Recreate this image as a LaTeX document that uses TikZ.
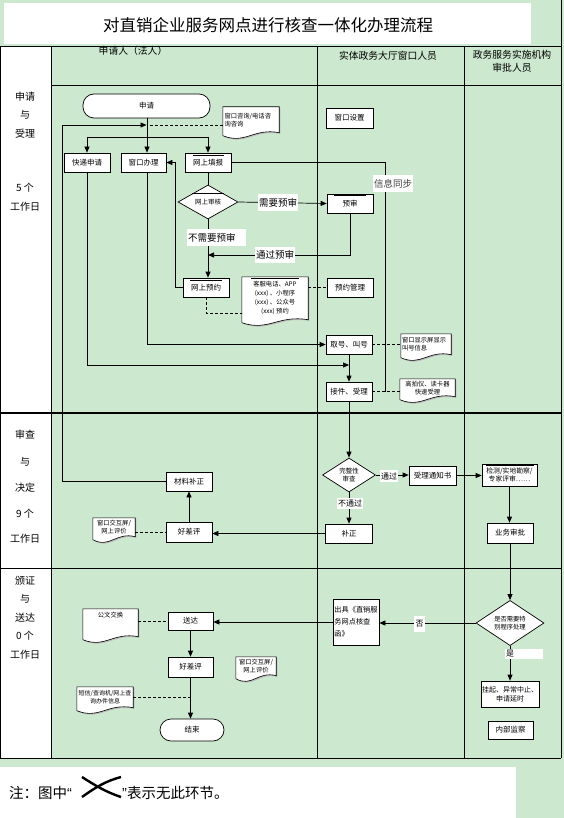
\documentclass[tikz,border=0pt]{standalone}
\usepackage{fontspec}
\setmainfont{Noto Sans CJK SC}
\newfontfamily\latq{Liberation Sans}
\usetikzlibrary{arrows.meta,calc,shapes.geometric}
\definecolor{bggreen}{HTML}{CCE8CF}
\pgfdeclarelayer{back}
\pgfdeclarelayer{docs}
\pgfsetlayers{back,docs,main}
\newcommand\wdoc[1]{%
 \begin{pgfonlayer}{docs}
 \fill[gray!55] let \p1=(#1.north west), \p2=(#1.south east) in
   (\x1+1.2pt,\y1-1.2pt) -- (\x2+1.2pt,\y1-1.2pt) -- (\x2+1.2pt,\y2-1.2pt)
   .. controls ({\x2-0.45*(\x2-\x1)+1.2pt},\y2+3.8pt) and ({\x1+0.4*(\x2-\x1)+1.2pt},\y2-13.2pt) .. (\x1+1.2pt,\y2-4.2pt) -- cycle;
 \draw[line width=0.6pt, fill=white] let \p1=(#1.north west), \p2=(#1.south east) in
   (\x1,\y1) -- (\x2,\y1) -- (\x2,\y2)
   .. controls ({\x2-0.45*(\x2-\x1)},\y2+5pt) and ({\x1+0.4*(\x2-\x1)},\y2-12pt) .. (\x1,\y2-3pt) -- cycle;
 \end{pgfonlayer}}
\newcommand\tbar[3]{\draw[line width=1.6pt] ($(#1.north)+(-#2,#3)$) -- ($(#1.north)+(#2,#3)$);}
\tikzset{
 box/.style={draw, line width=0.7pt, fill=white, inner sep=0pt, font=\fontsize{7.5}{9}\selectfont, align=center},
 dia/.style={box, diamond, font=\fontsize{6.5}{8}\selectfont},
 term/.style={box, rounded corners=11pt},
 doctext/.style={inner sep=1pt, font=\fontsize{6.3}{8}\selectfont, align=center},
 lbl/.style={fill=white, inner sep=1pt, font=\fontsize{9.5}{11}\selectfont},
 slbl/.style={fill=white, inner sep=1pt, font=\fontsize{8}{9}\selectfont},
 conn/.style={line width=0.7pt},
 arr/.style={conn, -{Triangle[length=6pt,width=5pt]}},
 dsh/.style={line width=0.6pt, dash pattern=on 3pt off 2pt},
 stage/.style={font=\fontsize{10}{12}\selectfont},
 head/.style={font=\fontsize{9.8}{13}\selectfont, align=center},
 tbl/.style={line width=0.8pt},
}
\begin{document}
\begin{tikzpicture}[x=1pt,y=-1pt]
\useasboundingbox (0,0) rectangle (564,818);
\begin{pgfonlayer}{back}
\fill[bggreen] (0,0) rectangle (564,818);
\fill[white] (4,3) rectangle (531,44);
\fill[white] (0,46) rectangle (51,758);
\fill[white] (0,767) rectangle (516,818);
\end{pgfonlayer}
% title
\node[font=\fontsize{16.5}{20}\selectfont] (title) at (268,25) {对直销企业服务网点进行核查一体化办理流程};
% table
\draw[tbl] (0,46) -- (561,46);
\draw[tbl] (51,85) -- (561,85);
\draw[line width=1.2pt] (0,413) -- (561,413);
\draw[tbl] (0,568) -- (561,568);
\draw[tbl] (0,758) -- (561,758);
\draw[tbl] (0.5,46) -- (0.5,758);
\draw[tbl] (51,46) -- (51,758);
\draw[tbl] (317,46) -- (317,758);
\draw[tbl] (464,46) -- (464,758);
\draw[tbl] (561,0) -- (561,758);
% headers
\node[head] (h1) at (133,51) {申请人（法人）};
\node[head] (h2) at (388,56) {实体政务大厅窗口人员};
\node[head] (h3) at (512,61) {政务服务实施机构\\审批人员};
% stage labels
\node[stage] (s11) at (25,97) {申请};
\node[stage] (s12) at (25,115) {与};
\node[stage] (s13) at (25,134) {受理};
\node[stage] (s14) at (25,188) {5 个};
\node[stage] (s15) at (25,207) {工作日};
\node[stage] (s21) at (25,435) {审查};
\node[stage] (s22) at (25,462) {与};
\node[stage] (s23) at (25,488) {决定};
\node[stage] (s24) at (25,514) {9 个};
\node[stage] (s25) at (25,539) {工作日};
\node[stage] (s31) at (25,581) {颁证};
\node[stage] (s32) at (25,599) {与};
\node[stage] (s33) at (25,618) {送达};
\node[stage] (s34) at (25,636) {0 个};
\node[stage] (s35) at (25,655) {工作日};
% nodes
\node[term, minimum width=127pt, minimum height=24pt] (sq) at (146.5,106) {申请};
\node[box, minimum width=46pt, minimum height=19pt] (kd) at (87,162.5) {快递申请};
\node[box, minimum width=45pt, minimum height=19pt] (ck) at (143.5,162.5) {窗口办理};
\node[box, minimum width=46pt, minimum height=19pt] (ws) at (208,162.5) {网上填报};
\node[dia, minimum width=60pt, minimum height=34pt] (sh) at (208,202) {网上审核};
\node[box, minimum width=46pt, minimum height=19pt] (ys) at (350,203.5) {预审};
\node[box, minimum width=46pt, minimum height=19pt] (wy) at (206,287.5) {网上预约};
\node[box, minimum width=46pt, minimum height=19pt] (yg) at (350,287.5) {预约管理};
\node[box, minimum width=47pt, minimum height=20pt] (cksz) at (349.5,118) {窗口设置};
\node[box, minimum width=46pt, minimum height=19pt] (qh) at (349,344.5) {取号、叫号};
\node[box, minimum width=46pt, minimum height=19pt] (jj) at (349,391.5) {接件、受理};
\node[dia, minimum width=53pt, minimum height=34pt] (wz) at (349,475) {完整性\\审查};
\node[box, minimum width=47pt, minimum height=19pt] (sl) at (432.5,475.5) {受理通知书};
\node[box, minimum width=55pt, minimum height=22pt, font=\fontsize{6.8}{8.5}\selectfont] (jc) at (509.5,475) {检测/实地勘察/\\专家评审……};
\node[box, minimum width=46pt, minimum height=20pt] (sp) at (510,533) {业务审批};
\node[box, minimum width=47pt, minimum height=19pt] (bz) at (349,533.5) {补正};
\node[box, minimum width=46pt, minimum height=20pt] (hc1) at (189,532) {好差评};
\node[box, minimum width=46pt, minimum height=19pt] (cl) at (189,481.5) {材料补正};
\node[dia, minimum width=68pt, minimum height=36pt, font=\fontsize{6.3}{7.8}\selectfont] (tsp) at (510,623) {是否需要特\\别程序处理};
\node[box, minimum width=46pt, minimum height=46pt, align=left, font=\fontsize{7.2}{12}\selectfont] (cj) at (356,622) {出具《直销服\\务网点核查\\函》};
\node[box, minimum width=45pt, minimum height=18pt] (sd) at (190.5,621) {送达};
\node[box, minimum width=45pt, minimum height=20pt] (hc2) at (190.5,667) {好差评};
\node[box, minimum width=58pt, minimum height=26pt, font=\fontsize{7}{9}\selectfont] (gq) at (510,694) {挂起、异常中止、\\申请延时};
\node[box, minimum width=45pt, minimum height=18pt] (jb) at (510.5,730) {内部监察};
\node[term, minimum width=64pt, minimum height=22pt] (js) at (192,730) {结束};
% documents
\node[doctext, minimum width=56pt, minimum height=25.5pt, text width=53pt, align=left] (d1) at (251,119.75) {窗口咨询/电话咨\\询咨询};
\node[doctext, minimum width=66pt, minimum height=42.5pt, font=\fontsize{6.3}{9}\selectfont] (d2) at (275,298.25) {客服电话、APP\\(xxx) 、小程序\\(xxx) 、公众号\\(xxx) 预约};
\node[doctext, minimum width=50pt, minimum height=20.5pt, text width=48pt, align=left] (d3) at (426,344.25) {窗口显示屏显示\\叫号信息};
\node[doctext, minimum width=55pt, minimum height=17.5pt] (d4) at (427.5,387.75) {高拍仪、读卡器\\快速受理};
\node[doctext, minimum width=42pt, minimum height=18.5pt] (d5) at (114,527.25) {窗口交互屏/\\网上评价};
\node[doctext, minimum width=55pt, minimum height=27.5pt] (d6) at (110.5,622.75) {公文交换\\[7pt]};
\node[doctext, minimum width=40pt, minimum height=18.5pt] (d7) at (256,666.25) {窗口交互屏/\\网上评价};
\node[doctext, minimum width=56pt, minimum height=20.5pt, font=\fontsize{6}{8}\selectfont] (d8) at (105,697.25) {短信/查询机/网上查\\询办件信息};
\wdoc{d1}\wdoc{d2}\wdoc{d3}\wdoc{d4}\wdoc{d5}\wdoc{d6}\wdoc{d7}\wdoc{d8}
% top bars
\tbar{ws}{15.5}{3}
\tbar{sh}{16}{9}
\tbar{ys}{16}{2}
\tbar{wy}{16}{2.7}
\tbar{d2}{24}{1.5}
\tbar{jc}{24}{2}
% coordinates
\coordinate (br) at (147,137);
\coordinate (j1) at (146.5,125);
\coordinate (rl) at (62,125);
\coordinate (j2) at (349,365);
\coordinate (j3) at (385,391.5);
\coordinate (j4) at (208,255);
\coordinate (j5) at (175,162.5);
\coordinate (j6) at (242,313);
% connectors
\draw[arr] (sq.south -| br) -- (br |- ck.north);
\draw[conn] (kd.north |- br) -- (ws.north |- br);
\draw[arr] (kd.north |- br) -- (kd.north);
\draw[arr] (ws.north |- br) -- (ws.north);
\draw[dsh] (d1.west |- j1) -- (j1);
\draw[arr] (cl.west) -| (rl) -- (j1);
\draw[arr] (kd.south) |- (j2);
\draw[arr] (br |- ck.south) |- (qh.west);
\draw[conn] (ws.south) -- (sh.north);
\draw[conn] (ws.east) -| (j3);
\draw[arr] (sh.east) -- (ys.west);
\draw[arr] (ys.south) |- (j4);
\draw[arr] (sh.south) -- (sh.south |- wy.north);
\draw[arr] (wy.west) -| (j5) -- (ck.east);
\draw[dsh] (wy.south) |- (j6);
\draw[dsh] (d2.east |- yg.west) -- (yg.west);
\draw[dsh] (qh.east) -- (qh.east -| d3.west);
\draw[arr] (qh.south) -- (jj.north);
\draw[dsh] (jj.east) -- (jj.east -| d4.west);
\draw[arr] (jj.south) -- (wz.north);
\draw[arr] (wz.east) -- (wz.east -| sl.west);
\draw[arr] (sl.east) -- (sl.east -| jc.west);
\draw[arr] (jc.south) -- (jc.south |- sp.north);
\draw[arr] (wz.south) -- (bz.north);
\draw[arr] (bz.west) -- (bz.west -| hc1.east);
\draw[arr] (hc1.north) -- (cl.south);
\draw[dsh] (d5.east |- hc1.west) -- (hc1.west);
\draw[arr] (sp.south) -- (tsp.north);
\draw[arr] (tsp.west) -- (tsp.west -| cj.east);
\draw[arr] (cj.west) -- (cj.west -| sd.east);
\draw[dsh] (d6.east |- sd.west) -- (sd.west);
\draw[arr] (sd.south) -- (hc2.north);
\draw[arr] (hc2.south) -- (hc2.south |- js.north);
\draw[dsh] (d8.east) -- (d8.east -| hc2.south);
\draw[arr] (tsp.south) -- (tsp.south |- gq.north);
% labels
\node[lbl, minimum width=40pt, minimum height=17pt] (l1) at (278,202.5) {需要预审};
\node[lbl, anchor=west, minimum height=17pt, text width=57pt, align=left] (l2) at (187,237.5) {不需要预审};
\node[lbl, minimum width=40pt, minimum height=16pt] (l3) at (275,255) {通过预审};
\node[lbl, minimum width=40pt, minimum height=17pt, text=black!75] (l4) at (393,183.5) {信息同步};
\node[slbl, minimum width=16pt, minimum height=12pt] (l5) at (389,476) {通过};
\node[slbl, minimum width=26pt, minimum height=11pt] (l6) at (350,503.5) {不通过};
\node[slbl, minimum width=11pt, minimum height=16pt] (l7) at (419.5,624) {否};
\node[slbl, anchor=west, minimum height=10pt, text width=36pt, align=left] (l8) at (505,654) {是};
% footer
\node[anchor=west, font=\fontsize{14.5}{16}\selectfont, inner sep=0pt] (f1) at (9,793) {注：图中{\latq “}};
\draw[line width=2.4pt] (82,797) .. controls (96,787) and (106,781) .. (121,777);
\draw[line width=2.4pt] (82,777) .. controls (96,786) and (106,792) .. (121,797);
\node[anchor=west, font=\fontsize{14.5}{16}\selectfont, inner sep=0pt] (f2) at (122,793) {{\latq ”}表示无此环节。};
\end{tikzpicture}
\end{document}
